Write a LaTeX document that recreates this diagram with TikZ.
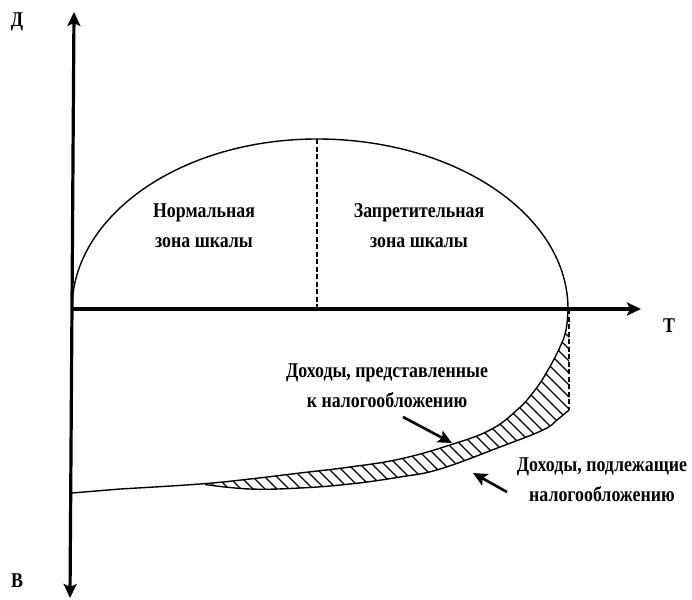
\documentclass[tikz,border=0pt]{standalone}
\usepackage{fontspec}
\newfontfamily\labelfont{Liberation Serif}[FakeStretch=0.85]
\usetikzlibrary{arrows.meta}

\begin{document}
\begin{tikzpicture}[x=1pt, y=-1pt,
   every node/.style={font=\labelfont\bfseries\fontsize{21}{30}\selectfont, inner sep=0pt},
   >={Stealth[length=14pt, width=13pt, inset=3pt]},
   axis/.style={line width=3.2pt},
   curve/.style={line width=1.4pt},
   divider/.style={line width=1.8pt, dash pattern=on 5pt off 2.5pt},
   hatch/.style={line width=1.3pt},
   pointer/.style={line width=2.6pt, ->}]

  \useasboundingbox (0,0) rectangle (692,599);

  % key points
  \coordinate (O) at (72,309);
  \coordinate (Dtip) at (74,12);
  \coordinate (Btip) at (70,598);
  \coordinate (Ttip) at (641,309);
  \coordinate (peak) at (317,139);
  \coordinate (peakfoot) at (317,309);
  \coordinate (Rcross) at (568,309);
  \coordinate (Rtop) at (569,309);
  \coordinate (Rlow) at (569,410);

  % hatched band between the two income curves
  \begin{scope}
    \clip (569,325) -- plot[smooth] coordinates {(567,325) (560,347) (548,370)
      (535,390) (517,410) (490,430) (450,445) (400,459) (350,467) (300,473)
      (250,479) (205,484)}
      -- plot[smooth] coordinates {(205,484.5) (250,489) (300,488)
      (350,484) (400,477) (440,469) (500,447) (543,430) (557,420) (569,410)}
      -- cycle;
    \foreach \x in {-200,-188,...,600}
      \draw[hatch] (\x,300) -- ++(200,200);
  \end{scope}

  % scale curve above the axis
  \draw[curve] (O) arc[start angle=180, end angle=270, x radius=245, y radius=170]
    arc[start angle=270, end angle=360, x radius=251, y radius=170];
  \draw[divider] (peak) -- (peakfoot);

  % income curves below the axis
  \draw[curve] plot[smooth, tension=0.7] coordinates {(Rcross) (566,330) (560,347)
    (548,370) (535,390) (517,410) (490,430) (450,445) (400,459) (350,467)
    (300,473) (250,479) (200,484) (120,489)} -- (72,493);
  \draw[curve] plot[smooth, tension=0.7] coordinates {(Rlow) (557,420) (543,430)
    (500,447) (440,469) (400,477) (350,484) (300,488) (250,489) (205,484.5)};
  \draw[divider] (Rtop) -- (Rlow);

  % axes
  \draw[axis, <->] (Btip) -- (Dtip);
  \draw[axis, line width=3.6pt, ->] (O) -- (Ttip);
  \node (labD) at (17,22) {Д};
  \node (labT) at (669,326) {Т};
  \node (labB) at (17,581) {В};

  % zone labels
  \node[align=center] (normal) at (204,226) {Нормальная\\зона шкалы};
  \node[align=center] (forbid) at (419,226) {Запретительная\\зона шкалы};

  % income labels and pointers
  \node[align=center] (declared) at (387,386) {Доходы, представленные\\к налогообложению};
  \node[align=center] (taxable) at (602,480) {Доходы, подлежащие\\налогообложению};
  \coordinate (p1s) at (403,417);
  \coordinate (p1e) at (452,443);
  \coordinate (p2s) at (507,492);
  \coordinate (p2e) at (473,473);
  \draw[pointer] (p1s) -- (p1e);
  \draw[pointer] (p2s) -- (p2e);
\end{tikzpicture}
\end{document}
